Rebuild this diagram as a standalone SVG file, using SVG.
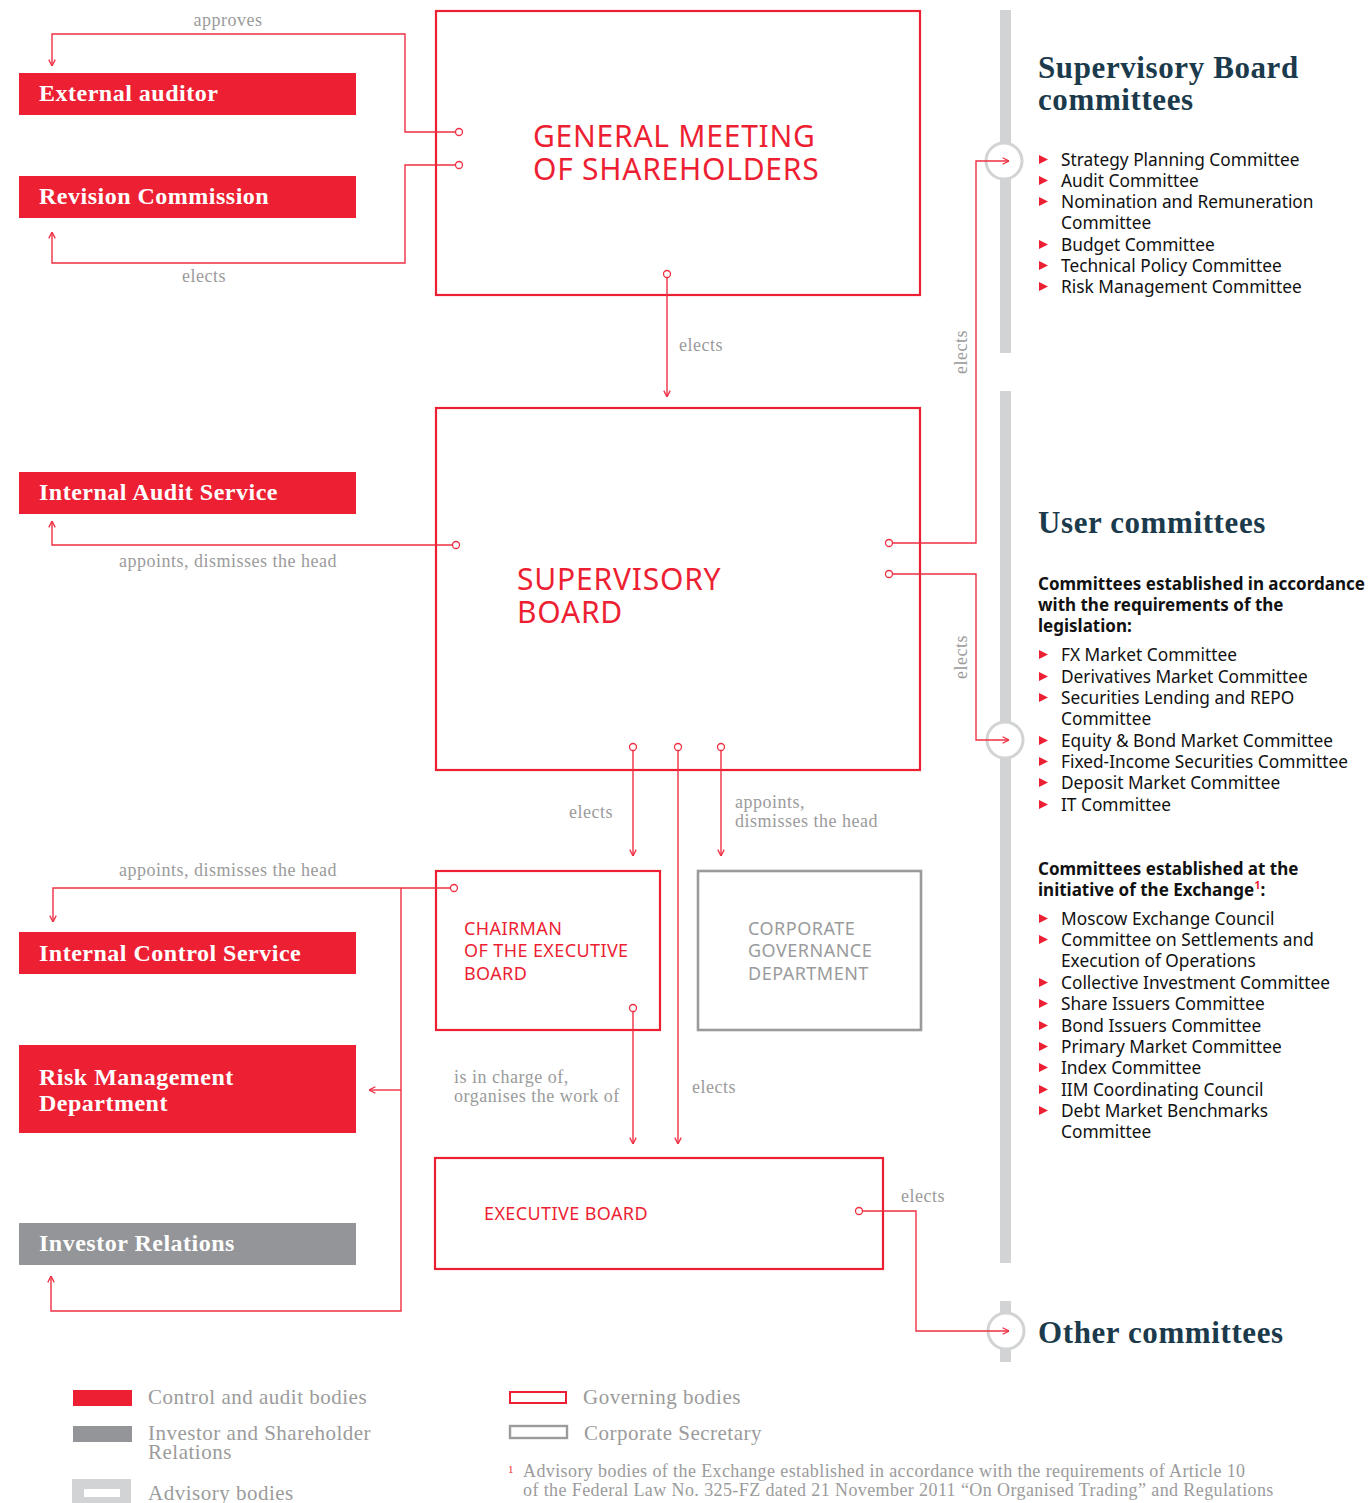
<svg xmlns="http://www.w3.org/2000/svg" width="1371" height="1503" viewBox="0 0 1371 1503">
<defs>
<style>
.bg{fill:#fff}
.gov{fill:#fff;stroke:#ED1F33;stroke-width:2.2}
.sec{fill:#fff;stroke:#9A9B9D;stroke-width:2.6}
.redbox{fill:#ED1F33}
.greybox{fill:#939598}
.boxt{font-family:"Liberation Serif",serif;font-weight:bold;font-size:24px;letter-spacing:0.5px;fill:#fff}
.big{font-family:"Noto Sans",sans-serif;font-size:30px;letter-spacing:0.75px;fill:#ED1F33}
.mid{font-family:"Noto Sans",sans-serif;font-size:18px;letter-spacing:0.4px;fill:#ED1F33}
.midg{font-family:"Noto Sans",sans-serif;font-size:18px;letter-spacing:0.5px;fill:#9A9B9D}
.lbl{font-family:"Liberation Serif",serif;font-size:18px;letter-spacing:0.5px;fill:#9B9B9B}
.conn{fill:none;stroke:#EE2F42;stroke-width:1.4}
.dot{fill:#fff;stroke:#EE2F42;stroke-width:1.3}
.bar{fill:#D1D3D4}
.ring{fill:#fff;stroke:#D1D3D4;stroke-width:3}
.head{font-family:"Liberation Serif",serif;font-weight:bold;font-size:31px;letter-spacing:0.6px;fill:#1B3A4B}
.item{font-family:"Noto Sans",sans-serif;font-size:17.3px;fill:#111}
.sub{font-family:"Noto Sans",sans-serif;font-weight:bold;font-size:17px;fill:#111}
.tri{fill:#ED1F33}
.leg{font-family:"Liberation Serif",serif;font-size:21px;letter-spacing:0.5px;fill:#9B9B9B}
.foot{font-family:"Liberation Serif",serif;font-size:18px;letter-spacing:0.4px;fill:#9B9B9B}
</style>
<marker id="arr" viewBox="0 0 10 10" refX="10" refY="5" markerWidth="8" markerHeight="8" markerUnits="userSpaceOnUse" orient="auto">
<path d="M2,1 L10,5 L2,9" fill="none" stroke="#EE2F42" stroke-width="1.6"/>
</marker>
<path id="bul" d="M0,0 L9,4.5 L0,9 Z"/>
</defs>
<rect class="bg" x="0" y="0" width="1371" height="1503"/>

<!-- grey bars -->
<g id="bars">
<rect class="bar" x="1000" y="10" width="11" height="343"/>
<rect class="bar" x="1000" y="391" width="11" height="872"/>
<rect class="bar" x="1000" y="1301" width="11" height="61"/>
<circle class="ring" cx="1004" cy="161" r="18"/>
<circle class="ring" cx="1005" cy="740" r="18"/>
<circle class="ring" cx="1006" cy="1331" r="18"/>
</g>

<!-- nodes -->
<g id="general-meeting">
<rect class="gov" x="436" y="11" width="484" height="284"/>
<text class="big" x="533" y="147">GENERAL MEETING<tspan x="533" dy="33">OF SHAREHOLDERS</tspan></text>
</g>
<g id="supervisory-board">
<rect class="gov" x="436" y="408" width="484" height="362"/>
<text class="big" x="517" y="590" style="letter-spacing:0.8px">SUPERVISORY<tspan x="517" dy="33">BOARD</tspan></text>
</g>
<g id="chairman">
<rect class="gov" x="436" y="871" width="224" height="159"/>
<text class="mid" x="464" y="935">CHAIRMAN<tspan x="464" dy="22">OF THE EXECUTIVE</tspan><tspan x="464" dy="23">BOARD</tspan></text>
</g>
<g id="corporate-governance">
<rect class="sec" x="698" y="871" width="223" height="159"/>
<text class="midg" x="748" y="935">CORPORATE<tspan x="748" dy="22">GOVERNANCE</tspan><tspan x="748" dy="23">DEPARTMENT</tspan></text>
</g>
<g id="executive-board">
<rect class="gov" x="435" y="1158" width="448" height="111"/>
<text class="mid" x="484" y="1220">EXECUTIVE BOARD</text>
</g>

<g id="external-auditor">
<rect class="redbox" x="19" y="73" width="337" height="42"/>
<text class="boxt" x="39" y="101">External auditor</text>
</g>
<g id="revision-commission">
<rect class="redbox" x="19" y="176" width="337" height="42"/>
<text class="boxt" x="39" y="204">Revision Commission</text>
</g>
<g id="internal-audit">
<rect class="redbox" x="19" y="472" width="337" height="42"/>
<text class="boxt" x="39" y="500">Internal Audit Service</text>
</g>
<g id="internal-control">
<rect class="redbox" x="19" y="932" width="337" height="42"/>
<text class="boxt" x="39" y="961">Internal Control Service</text>
</g>
<g id="risk-management">
<rect class="redbox" x="19" y="1045" width="337" height="88"/>
<text class="boxt" x="39" y="1085">Risk Management<tspan x="39" dy="26">Department</tspan></text>
</g>
<g id="investor-relations">
<rect class="greybox" x="19" y="1223" width="337" height="42"/>
<text class="boxt" x="39" y="1251">Investor Relations</text>
</g>

<!-- connectors -->
<g id="connectors">
<path class="conn" d="M455,132 H405 V34 H52 V66" marker-end="url(#arr)"/>
<path class="conn" d="M455,165 H405 V263 H52 V232" marker-end="url(#arr)"/>
<path class="conn" d="M667,278 V397" marker-end="url(#arr)"/>
<path class="conn" d="M452,545 H52 V521" marker-end="url(#arr)"/>
<path class="conn" d="M893,543 H976 V161 H1009" marker-end="url(#arr)"/>
<path class="conn" d="M893,574 H976 V740 H1009" marker-end="url(#arr)"/>
<path class="conn" d="M633,751 V856" marker-end="url(#arr)"/>
<path class="conn" d="M678,751 V1144" marker-end="url(#arr)"/>
<path class="conn" d="M721,751 V856" marker-end="url(#arr)"/>
<path class="conn" d="M450,888 H53 V922" marker-end="url(#arr)"/>
<path class="conn" d="M401,888 V1311 H51 V1276" marker-end="url(#arr)"/>
<path class="conn" d="M401,1090 H369" marker-end="url(#arr)"/>
<path class="conn" d="M633,1012 V1144" marker-end="url(#arr)"/>
<path class="conn" d="M863,1211 H916 V1331 H1009" marker-end="url(#arr)"/>
<circle class="dot" cx="459" cy="132" r="3.5"/>
<circle class="dot" cx="459" cy="165" r="3.5"/>
<circle class="dot" cx="667" cy="274" r="3.5"/>
<circle class="dot" cx="456" cy="545" r="3.5"/>
<circle class="dot" cx="889" cy="543" r="3.5"/>
<circle class="dot" cx="889" cy="574" r="3.5"/>
<circle class="dot" cx="633" cy="747" r="3.5"/>
<circle class="dot" cx="678" cy="747" r="3.5"/>
<circle class="dot" cx="721" cy="747" r="3.5"/>
<circle class="dot" cx="454" cy="888" r="3.5"/>
<circle class="dot" cx="633" cy="1008" r="3.5"/>
<circle class="dot" cx="859" cy="1211" r="3.5"/>
<text class="lbl" x="228" y="26" text-anchor="middle">approves</text>
<text class="lbl" x="204" y="282" text-anchor="middle">elects</text>
<text class="lbl" x="679" y="351">elects</text>
<text class="lbl" x="228" y="567" text-anchor="middle">appoints, dismisses the head</text>
<text class="lbl" x="228" y="876" text-anchor="middle">appoints, dismisses the head</text>
<text class="lbl" x="591" y="818" text-anchor="middle">elects</text>
<text class="lbl" x="735" y="808">appoints,<tspan x="735" dy="19">dismisses the head</tspan></text>
<text class="lbl" x="454" y="1083">is in charge of,<tspan x="454" dy="19">organises the work of</tspan></text>
<text class="lbl" x="692" y="1093">elects</text>
<text class="lbl" x="901" y="1202">elects</text>
<text class="lbl" transform="translate(967,352) rotate(-90)" text-anchor="middle">elects</text>
<text class="lbl" transform="translate(967,657) rotate(-90)" text-anchor="middle">elects</text>
</g>

<!-- right side lists -->
<g id="sb-committees">
<text class="head" x="1038" y="78">Supervisory Board<tspan x="1038" dy="32">committees</tspan></text>
<use href="#bul" class="tri" x="1039" y="155"/><text class="item" x="1061" y="166">Strategy Planning Committee</text>
<use href="#bul" class="tri" x="1039" y="176"/><text class="item" x="1061" y="187">Audit Committee</text>
<use href="#bul" class="tri" x="1039" y="197"/><text class="item" x="1061" y="208">Nomination and Remuneration<tspan x="1061" dy="21">Committee</tspan></text>
<use href="#bul" class="tri" x="1039" y="240"/><text class="item" x="1061" y="251">Budget Committee</text>
<use href="#bul" class="tri" x="1039" y="261"/><text class="item" x="1061" y="272">Technical Policy Committee</text>
<use href="#bul" class="tri" x="1039" y="282"/><text class="item" x="1061" y="293">Risk Management Committee</text>
</g>

<g id="user-committees">
<text class="head" x="1038" y="533">User committees</text>
<text class="sub" x="1038" y="590">Committees established in accordance<tspan x="1038" dy="21">with the requirements of the</tspan><tspan x="1038" dy="21">legislation:</tspan></text>
<use href="#bul" class="tri" x="1039" y="650"/><text class="item" x="1061" y="661">FX Market Committee</text>
<use href="#bul" class="tri" x="1039" y="672"/><text class="item" x="1061" y="683">Derivatives Market Committee</text>
<use href="#bul" class="tri" x="1039" y="693"/><text class="item" x="1061" y="704">Securities Lending and REPO<tspan x="1061" dy="21">Committee</tspan></text>
<use href="#bul" class="tri" x="1039" y="736"/><text class="item" x="1061" y="747">Equity &amp; Bond Market Committee</text>
<use href="#bul" class="tri" x="1039" y="757"/><text class="item" x="1061" y="768">Fixed-Income Securities Committee</text>
<use href="#bul" class="tri" x="1039" y="778"/><text class="item" x="1061" y="789">Deposit Market Committee</text>
<use href="#bul" class="tri" x="1039" y="800"/><text class="item" x="1061" y="811">IT Committee</text>

<text class="sub" x="1038" y="875">Committees established at the<tspan x="1038" dy="21">initiative of the Exchange</tspan><tspan fill="#ED1F33" font-size="11" dy="-7">1</tspan><tspan dy="7">:</tspan></text>
<use href="#bul" class="tri" x="1039" y="914"/><text class="item" x="1061" y="925">Moscow Exchange Council</text>
<use href="#bul" class="tri" x="1039" y="935"/><text class="item" x="1061" y="946">Committee on Settlements and<tspan x="1061" dy="21">Execution of Operations</tspan></text>
<use href="#bul" class="tri" x="1039" y="978"/><text class="item" x="1061" y="989">Collective Investment Committee</text>
<use href="#bul" class="tri" x="1039" y="999"/><text class="item" x="1061" y="1010">Share Issuers Committee</text>
<use href="#bul" class="tri" x="1039" y="1021"/><text class="item" x="1061" y="1032">Bond Issuers Committee</text>
<use href="#bul" class="tri" x="1039" y="1042"/><text class="item" x="1061" y="1053">Primary Market Committee</text>
<use href="#bul" class="tri" x="1039" y="1063"/><text class="item" x="1061" y="1074">Index Committee</text>
<use href="#bul" class="tri" x="1039" y="1085"/><text class="item" x="1061" y="1096">IIM Coordinating Council</text>
<use href="#bul" class="tri" x="1039" y="1106"/><text class="item" x="1061" y="1117">Debt Market Benchmarks<tspan x="1061" dy="21">Committee</tspan></text>
</g>

<g id="other-committees">
<text class="head" x="1038" y="1343">Other committees</text>
</g>

<!-- legend -->
<g id="legend">
<rect class="redbox" x="73" y="1390" width="59" height="16"/>
<text class="leg" x="148" y="1404">Control and audit bodies</text>
<rect class="greybox" x="73" y="1426" width="59" height="16"/>
<text class="leg" x="148" y="1440">Investor and Shareholder<tspan x="148" dy="19">Relations</tspan></text>
<rect fill="#D1D3D4" x="72" y="1479" width="59" height="30"/>
<rect fill="#fff" x="84" y="1489" width="36" height="8"/>
<text class="leg" x="148" y="1500">Advisory bodies</text>
<rect fill="none" stroke="#ED1F33" stroke-width="2" x="510" y="1392" width="56" height="11"/>
<text class="leg" x="583" y="1404">Governing bodies</text>
<rect fill="none" stroke="#9A9B9D" stroke-width="2.4" x="510" y="1426" width="57" height="12"/>
<text class="leg" x="584" y="1440">Corporate Secretary</text>
<text class="foot" x="508" y="1477"><tspan fill="#ED1F33" font-size="11" dy="-4">1</tspan><tspan x="523" dy="4">Advisory bodies of the Exchange established in accordance with the requirements of Article 10</tspan><tspan x="523" dy="19">of the Federal Law No. 325-FZ dated 21 November 2011 “On Organised Trading” and Regulations</tspan></text>
</g>
</svg>
